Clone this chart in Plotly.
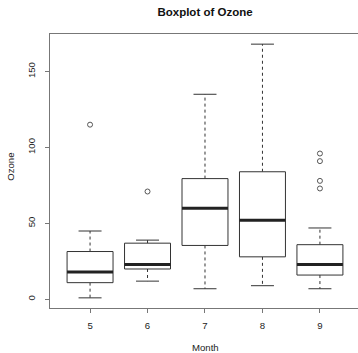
import plotly.graph_objects as go

months = [5, 6, 7, 8, 9]
month_labels = ["5", "6", "7", "8", "9"]
lower_whisker = [1, 12, 7, 9, 7]
q1 = [11, 20, 35.5, 28, 16]
median = [18, 23, 60, 52, 23]
q3 = [31.5, 37, 79.5, 84, 36]
upper_whisker = [45, 39, 135, 168, 47]
outlier_month = [5, 6, 9, 9, 9, 9]
outlier_value = [115, 71, 96, 91, 78, 73]
y_ticks = [0, 50, 100, 150]

BOX_HALF = 0.4
CAP_HALF = 0.2

pos = {m: i + 1 for i, m in enumerate(months)}

bx, by, mx, my, wx, wy, cx, cy = [], [], [], [], [], [], [], []
for i, m in enumerate(months):
    p = pos[m]
    bx += [p - BOX_HALF, p + BOX_HALF, p + BOX_HALF, p - BOX_HALF, p - BOX_HALF, None]
    by += [q1[i], q1[i], q3[i], q3[i], q1[i], None]
    mx += [p - BOX_HALF, p + BOX_HALF, None]
    my += [median[i], median[i], None]
    wx += [p, p, None, p, p, None]
    wy += [q3[i], upper_whisker[i], None, q1[i], lower_whisker[i], None]
    cx += [p - CAP_HALF, p + CAP_HALF, None, p - CAP_HALF, p + CAP_HALF, None]
    cy += [upper_whisker[i], upper_whisker[i], None, lower_whisker[i], lower_whisker[i], None]

fig = go.Figure()
fig.add_trace(go.Scatter(x=wx, y=wy, mode="lines", line=dict(color="#333", width=1, dash="3px,3px"),
                         hoverinfo="skip", showlegend=False))
fig.add_trace(go.Scatter(x=cx, y=cy, mode="lines", line=dict(color="#333", width=1),
                         hoverinfo="skip", showlegend=False))
fig.add_trace(go.Scatter(x=bx, y=by, mode="lines", line=dict(color="#333", width=1),
                         fill="toself", fillcolor="white", hoverinfo="skip", showlegend=False))
fig.add_trace(go.Scatter(x=mx, y=my, mode="lines", line=dict(color="#222", width=3),
                         hoverinfo="skip", showlegend=False))
fig.add_trace(go.Scatter(x=[pos[m] for m in outlier_month], y=outlier_value, mode="markers",
                         marker=dict(symbol="circle-open", size=5, color="#555", line=dict(width=1)),
                         showlegend=False))

FONT = "Liberation Sans, Arial, Helvetica, sans-serif"
fig.update_layout(
    width=358, height=353,
    margin=dict(l=50, r=0, t=34, b=44.5),
    plot_bgcolor="white", paper_bgcolor="white",
    font=dict(family=FONT, size=9.6, color="#222"),
    title=dict(text="<b>Boxplot of Ozone</b>", x=205 / 358, xanchor="center",
               y=1 - 12 / 353, yanchor="middle", xref="container", yref="container",
               font=dict(family=FONT, size=11.5, color="#111")),
    xaxis=dict(range=[0.303, 0.303 + 307.5 / 57.375], tickvals=[pos[m] for m in months],
               ticktext=month_labels,
               showgrid=False, zeroline=False, showline=True, mirror=True, linecolor="#777",
               linewidth=1, ticks="outside", ticklen=4, tickcolor="#777", ticklabelstandoff=4),
    yaxis=dict(range=[-5.68, 174.68], tickvals=y_ticks, showgrid=False, zeroline=False,
               showline=True, linecolor="#777", linewidth=1, ticks="outside", ticklen=4,
               tickcolor="#777", tickangle=-90, ticklabelstandoff=6),
    annotations=[
        dict(text="Month", xref="paper", yref="paper", x=(205 - 50) / 308, y=-39.5 / 274.5,
             xanchor="center", yanchor="middle", showarrow=False, font=dict(size=9.6)),
        dict(text="Ozone", xref="paper", yref="paper", x=(11 - 50) / 308, y=(308.5 - 167) / 274.5,
             xanchor="center", yanchor="middle", textangle=-90, showarrow=False, font=dict(size=9.6)),
    ],
)
fig.write_html("out.html")
